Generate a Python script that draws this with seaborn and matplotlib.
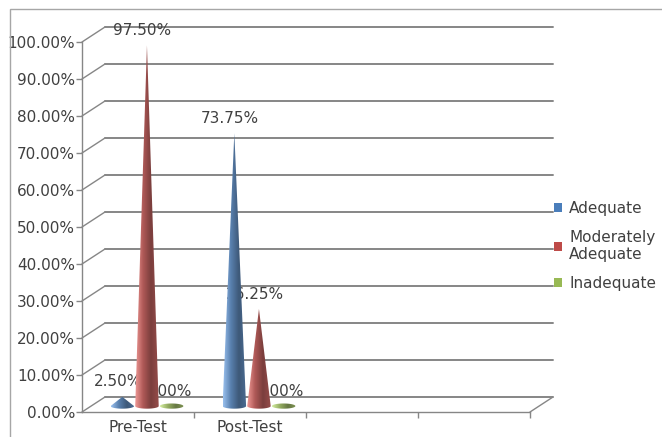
import numpy as np
import pandas as pd
import matplotlib
matplotlib.use("Agg")
import matplotlib.pyplot as plt
import seaborn as sns
from matplotlib.patches import Polygon, Patch, Rectangle
from matplotlib.colors import LinearSegmentedColormap, to_rgb

# data
tests = ["Pre-Test", "Post-Test"]
levels = ["Adequate", "Moderately Adequate", "Inadequate"]
adequate = [2.50, 73.75]
moderately = [97.50, 26.25]
inadequate = [0.00, 0.00]
y_ticks = [0, 10, 20, 30, 40, 50, 60, 70, 80, 90, 100]
colors = ["#4A7EBB", "#BE4B48", "#98B954"]

df = pd.DataFrame({
    "Test": tests * 3,
    "Level": [levels[0]] * 2 + [levels[1]] * 2 + [levels[2]] * 2,
    "Value": adequate + moderately + inadequate,
})

sns.set_style("white")
plt.rcParams["font.family"] = ["DejaVu Sans"]

W, H = 662, 437
fig = plt.figure(figsize=(W / 100, H / 100), dpi=100)
# axes = front plane of the 3D box
ax = fig.add_axes([82 / W, 25 / H, 448 / W, 370 / H])

sns.barplot(data=df, x="Test", y="Value", hue="Level", order=tests,
            hue_order=levels, palette=colors, width=0.66, errorbar=None,
            legend=False, ax=ax)

grid_c = "#868686"
text_c = "#404040"
fs = 11
dx, dy = 0.205, 4.05      # depth offset of back wall
cdx, cdy = 0.08, 1.6      # cone position in depth
ell = 0.7                 # half-height of cone base ellipse (data units)

# back wall gridlines + depth connectors
for v in y_ticks:
    ax.plot([-0.5 + dx, 3.5 + dx], [v + dy, v + dy], color=grid_c, lw=1.4,
            clip_on=False, zorder=1)
    ax.plot([-0.5, -0.5 + dx], [v, v + dy], color=grid_c, lw=1.0,
            clip_on=False, zorder=1)
ax.plot([3.5, 3.5 + dx], [0, dy], color=grid_c, lw=1.0, clip_on=False, zorder=1)


def cone_cmap(c):
    r = np.array(to_rgb(c))
    light = np.clip(r + 0.25, 0, 1)
    dark = r * 0.7
    return LinearSegmentedColormap.from_list("c", [light, r, dark, r * 0.85])


grad = np.linspace(0, 1, 64).reshape(1, -1)
for p in list(ax.patches):
    xc = p.get_x() + p.get_width() / 2
    h = p.get_height()
    col = p.get_facecolor()
    p.set_visible(False)
    x0 = xc + cdx
    b = cdy
    w = 0.21
    t = np.linspace(0, np.pi, 30)
    base_x = x0 + (w / 2) * np.cos(t)
    base_y = b - ell * np.sin(t)
    if h > 0:
        verts = [(x0 - w / 2, b), (x0, b + h), (x0 + w / 2, b)] + list(zip(base_x, base_y))
    else:
        top_x = x0 - (w / 2) * np.cos(t)
        top_y = b + ell * np.sin(t)
        verts = list(zip(top_x, top_y)) + list(zip(base_x, base_y))
    poly = Polygon(verts, closed=True, facecolor="none", edgecolor="none", zorder=3)
    ax.add_patch(poly)
    im = ax.imshow(grad, extent=[x0 - w / 2, x0 + w / 2, b - ell, b + max(h, ell)],
                   cmap=cone_cmap(col), aspect="auto", zorder=3, origin="lower")
    im.set_clip_path(poly)
    label = f"{h:.2f}%"
    ax.annotate(label, (xc + 0.04, h), xytext=(0, 15), textcoords="offset points",
                ha="center", va="center", fontsize=fs, color=text_c, zorder=2)

ax.set_xlim(-0.5, 3.5)
ax.set_ylim(0, 100)
ax.set_xlabel("")
ax.set_ylabel("")

# axes styling
for s in ["top", "right"]:
    ax.spines[s].set_visible(False)
for s in ["left", "bottom"]:
    ax.spines[s].set_color(grid_c)
    ax.spines[s].set_linewidth(1.0)
ax.set_yticks(y_ticks)
ax.set_yticklabels([f"{v:.2f}%" for v in y_ticks])
ax.tick_params(axis="y", length=4, width=1, color=grid_c, pad=1,
               labelsize=fs, labelcolor=text_c, left=True)
ax.set_xticks([0, 1])
ax.set_xticklabels(tests)
ax.set_xticks([0.5, 1.5, 2.5, 3.5], minor=True)
ax.tick_params(axis="x", which="major", length=0, pad=6, labelsize=fs,
               labelcolor=text_c)
ax.tick_params(axis="x", which="minor", length=4, width=1, color=grid_c,
               bottom=True)
ax.patch.set_alpha(0)

# outer chart frame
fig.add_artist(Rectangle((10 / W, -0.1), 1.2, 1.1 - 9 / H,
                         transform=fig.transFigure, fill=False,
                         edgecolor="#a6a6a6", lw=1.0))

handles = [Patch(facecolor=c, edgecolor="none") for c in colors]
fig.legend(handles, ["Adequate", "Moderately\nAdequate", "Inadequate"],
           loc="center left", bbox_to_anchor=(554 / W, 1 - 246 / H),
           frameon=False, fontsize=fs, labelcolor=text_c,
           handlelength=0.5, handleheight=0.5, handletextpad=0.5,
           labelspacing=0.9, borderpad=0, borderaxespad=0)

fig.savefig("out.png", dpi=100)
